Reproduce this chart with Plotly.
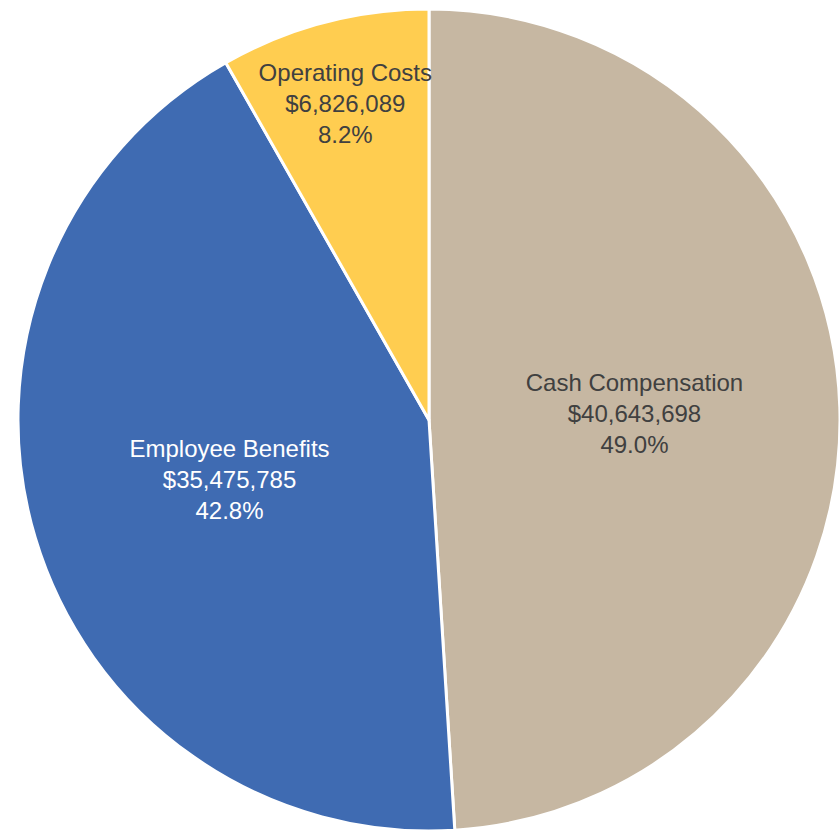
import plotly.graph_objects as go

# Budget breakdown by category
categories = ["Cash Compensation", "Employee Benefits", "Operating Costs"]
amounts = [40643698, 35475785, 6826089]
percent_labels = ["49.0%", "42.8%", "8.2%"]

slice_colors = ["#C6B7A2", "#3F6BB2", "#FFCD50"]
text_colors = ["#404040", "#FFFFFF", "#404040"]

fig = go.Figure(
    go.Pie(
        labels=categories,
        values=amounts,
        customdata=percent_labels,
        sort=False,
        direction="clockwise",
        rotation=0,
        texttemplate="%{label}<br>$%{value:,.0f}<br>%{customdata}",
        textposition="inside",
        insidetextorientation="horizontal",
        insidetextfont=dict(family="Liberation Sans, Arial, sans-serif", size=24, color=text_colors),
        marker=dict(colors=slice_colors, line=dict(color="#FFFFFF", width=3)),
        hoverinfo="label+value+percent",
        showlegend=False,
        domain=dict(x=[18 / 840, 1.0], y=[1 / 833, 825 / 833]),
    )
)

fig.update_layout(
    width=840,
    height=833,
    margin=dict(l=0, r=0, t=0, b=0),
    paper_bgcolor="#FFFFFF",
    plot_bgcolor="#FFFFFF",
    showlegend=False,
    uniformtext=dict(minsize=24, mode="show"),
)

fig.write_html("out.html")
